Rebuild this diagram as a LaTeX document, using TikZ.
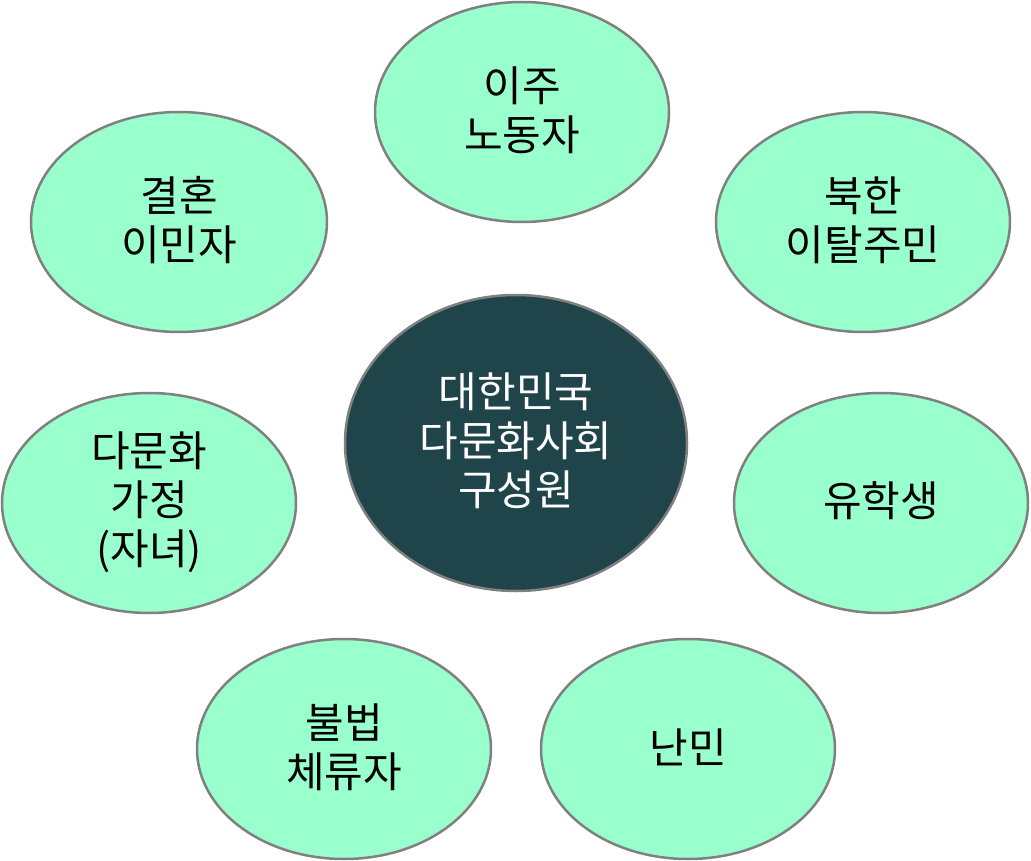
\documentclass[tikz,border=0pt]{standalone}
\usepackage{fontspec}
\setmainfont{Noto Sans CJK KR}
\begin{document}
\begin{tikzpicture}[x=1pt,y=-1pt,
  bubble/.style={draw=black!50, line width=2.5pt, fill=mint},
  lbl/.style={align=center, font=\fontsize{42}{49}\selectfont, text=black}]
\definecolor{mint}{HTML}{99FFCC}
\definecolor{deepteal}{HTML}{1F4449}
\useasboundingbox (0,0) rectangle (1031,861);
\fill[white] (0,0) rectangle (1031,861);
% ellipses
\draw[bubble, fill=deepteal] (516,443) ellipse [x radius=171, y radius=148];
\draw[bubble] (522,112) ellipse [x radius=147, y radius=110];
\draw[bubble] (179,222) ellipse [x radius=148, y radius=110];
\draw[bubble] (863,222) ellipse [x radius=147, y radius=110];
\draw[bubble] (149,503) ellipse [x radius=147, y radius=110];
\draw[bubble] (881,503) ellipse [x radius=147, y radius=110];
\draw[bubble] (344,749) ellipse [x radius=147, y radius=110];
\draw[bubble] (688,749) ellipse [x radius=147, y radius=110];
% labels
\node[lbl, text=white] (center) at (516,441) {대한민국\\다문화사회\\구성원};
\node[lbl] (worker) at (522,110) {이주\\노동자};
\node[lbl] (marriage) at (179,220) {결혼\\이민자};
\node[lbl] (nk) at (863,220) {북한\\이탈주민};
\node[lbl] (family) at (149,502) {다문화\\가정\\(자녀)};
\node[lbl] (student) at (881,501) {유학생};
\node[lbl] (illegal) at (344,747) {불법\\체류자};
\node[lbl] (refugee) at (688,747) {난민};
\end{tikzpicture}
\end{document}
